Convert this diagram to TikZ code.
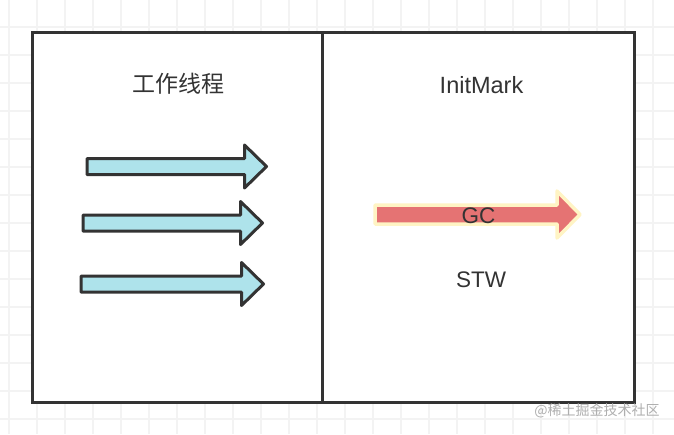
\documentclass[tikz,border=0pt]{standalone}
\usepackage{fontspec}
\setmainfont{Liberation Sans}
\newfontfamily\cjk{Noto Sans CJK SC}
\usepackage{tikz}
\usetikzlibrary{positioning}
\definecolor{gridgray}{HTML}{F3F3F3}
\definecolor{framegray}{HTML}{333333}
\definecolor{threadcyan}{HTML}{AEE3EB}
\definecolor{gcred}{HTML}{E57373}
\definecolor{gcglow}{HTML}{FFF4C4}
\definecolor{markgray}{HTML}{AFAFAF}

% block arrow: tail x, tip x, centre y, shaft half, head half, head length
\newcommand{\blockarrow}[7][]{%
  \draw[#1] (#2,#4-#5) -- (#3-#7,#4-#5) -- (#3-#7,#4-#6) -- (#3,#4)
    -- (#3-#7,#4+#6) -- (#3-#7,#4+#5) -- (#2,#4+#5) -- cycle;}

\begin{document}
\begin{tikzpicture}[
  x=1pt, y=-1pt,
  gridline/.style={draw=gridgray, line width=1.8pt},
  frame/.style={draw=framegray, line width=3pt, fill=white},
  divider/.style={draw=framegray, line width=3pt},
  thread/.style={draw=framegray, fill=threadcyan, line width=3pt, line join=round},
  gcarrow/.style={draw=gcglow, fill=gcred, line width=3.5pt, line join=round},
  label/.style={font=\fontsize{22.5}{27}\selectfont, text=framegray, inner sep=0pt, anchor=base},
  watermark/.style={font=\cjk\fontsize{14}{16}\selectfont, text=markgray, inner sep=0pt, anchor=base}
]
\useasboundingbox (0,0) rectangle (674,434);
\fill[white] (0,0) rectangle (674,434);

% background grid
\foreach \gx in {0,...,23} \draw[gridline] (9+28*\gx,0) -- (9+28*\gx,434);
\foreach \gy in {0,...,15} \draw[gridline] (0,-1+28*\gy) -- (674,-1+28*\gy);

% panels
\draw[frame] (32,32) rectangle (634,402.5);
\coordinate (divtop) at (322,32);
\coordinate (divbot) at (322,402.5);
\draw[divider] (divtop) -- (divbot);

% worker threads
\node[label, font=\cjk\fontsize{23}{27}\selectfont] (worktitle) at (178,92.5) {工作线程};
\blockarrow[thread]{87}{266.5}{166.5}{8}{21.5}{22}
\blockarrow[thread]{83}{262.5}{223}{8}{21.5}{22}
\blockarrow[thread]{81}{263.5}{284}{8}{21.5}{22}

% initial mark
\node[label, font=\fontsize{23.5}{28}\selectfont] (marktitle) at (481.5,93) {InitMark};
\blockarrow[gcarrow]{375}{580}{214.5}{9.5}{23.5}{23}
\node[label] (gc) at (478.5,223) {GC};
\node[label] (stw) at (481,287) {STW};

\node[watermark] (source) at (597,415.5) {@稀土掘金技术社区};
\end{tikzpicture}
\end{document}
